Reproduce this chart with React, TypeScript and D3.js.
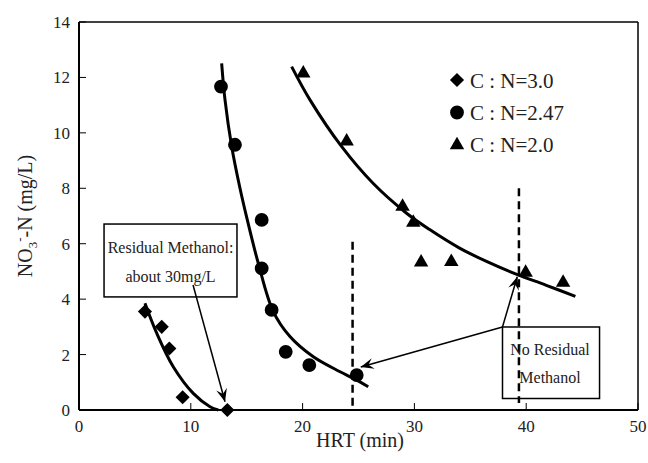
import React from "react";
import * as d3 from "d3";

// C:N = 3.0 (diamonds)
const hrtCN30 = [5.9, 7.4, 8.08, 9.27, 13.27];
const no3CN30 = [3.55, 3.0, 2.22, 0.46, 0.0];
// C:N = 2.47 (circles)
const hrtCN247 = [12.7, 13.95, 16.34, 16.34, 17.23, 18.49, 20.6, 24.84];
const no3CN247 = [11.67, 9.57, 6.86, 5.11, 3.61, 2.1, 1.62, 1.26];
// C:N = 2.0 (triangles)
const hrtCN20 = [20.06, 23.94, 28.94, 29.9, 30.6, 33.3, 39.95, 43.3];
const no3CN20 = [12.15, 9.69, 7.34, 6.76, 5.33, 5.35, 4.96, 4.6];

// fitted trend lines
const fitX30 = [5.9, 6.95, 8.43, 10.22, 11.72, 12.46];
const fitY30 = [3.85, 2.77, 1.56, 0.6, 0.12, 0.0];
const fitX247 = [12.76, 13.06, 13.66, 14.4, 15.0, 16.0, 17.38, 18.87, 20.96, 23.35, 24.54, 25.87];
const fitY247 = [12.51, 11.19, 9.5, 8.0, 6.95, 5.35, 3.55, 2.65, 1.92, 1.38, 1.14, 0.84];
const fitX20 = [19.02, 20.66, 23.5, 26.3, 29.3, 31.4, 34.0, 36.5, 39.1, 41.8, 44.4];
const fitY20 = [12.39, 11.19, 9.5, 8.18, 7.1, 6.5, 5.85, 5.35, 4.9, 4.5, 4.1];

const xTicks = [0, 10, 20, 30, 40, 50];
const yTicks = [0, 2, 4, 6, 8, 10, 12, 14];
const legendLabels = ["C : N=3.0", "C : N=2.47", "C : N=2.0"];

const W = 648;
const H = 463;
const serif = "'Liberation Serif', 'DejaVu Serif', serif";

const zip = (xs: number[], ys: number[]) => xs.map((x, i) => [x, ys[i]] as [number, number]);

export default function App() {
  const x = d3.scaleLinear().domain([0, 50]).range([79, 638]);
  const y = d3.scaleLinear().domain([0, 14]).range([410, 22]);

  const line = d3
    .line<[number, number]>()
    .x((d) => x(d[0]))
    .y((d) => y(d[1]))
    .curve(d3.curveCatmullRom);

  const diamond = d3.symbol().type(d3.symbolSquare).size(100)();
  const circle = d3.symbol().type(d3.symbolCircle).size(150)();
  const triangle = d3.symbol().type(d3.symbolTriangle).size(90)();
  const shapes = [diamond, circle, triangle];

  const marker = (kind: number, cx: number, cy: number, key: string) => (
    <path
      key={key}
      d={shapes[kind]!}
      transform={`translate(${cx},${cy})${kind === 0 ? " rotate(45)" : ""}`}
      fill="#000"
    />
  );

  const series = [zip(hrtCN30, no3CN30), zip(hrtCN247, no3CN247), zip(hrtCN20, no3CN20)];
  const fits = [zip(fitX30, fitY30), zip(fitX247, fitY247), zip(fitX20, fitY20)];

  // annotation boxes in data units
  const box1 = { x0: 2.24, x1: 14.13, y0: 6.71, y1: 4.08 };
  const box2 = { x0: 37.88, x1: 46.56, y0: 2.995, y1: 0.415 };
  const arrows = [
    { from: [10.2, 4.51], to: [13.06, 0.3] },
    { from: [37.88, 2.995], to: [39.2, 4.81] },
    { from: [37.88, 2.995], to: [25.2, 1.55] },
  ];
  const dashes = [
    { at: 24.47, top: 6.07, bottom: 0 },
    { at: 39.35, top: 8.0, bottom: 0.25 },
  ];

  const T = (props: any) => <text fontFamily={serif} fill="#222" {...props} />;

  return (
    <svg width={W} height={H} style={{ position: "absolute", left: 0, top: 0, background: "#fff" }}>
      <defs>
        <marker
          id="head"
          viewBox="-14 -6 16 12"
          markerWidth={16}
          markerHeight={12}
          markerUnits="userSpaceOnUse"
          refX={0}
          refY={0}
          orient="auto"
        >
          <path d="M0,0 L-13,-5.5 L-8,0 L-13,5.5 Z" fill="#000" />
        </marker>
      </defs>
      <rect width={W} height={H} fill="#fff" />

      {/* frame */}
      <line x1={x(0)} x2={x(50)} y1={y(14)} y2={y(14)} stroke="#000" strokeWidth={1.5} />
      <line x1={x(50)} x2={x(50)} y1={y(14)} y2={y(0)} stroke="#000" strokeWidth={1.5} />
      <line x1={x(0)} x2={x(50)} y1={y(0)} y2={y(0)} stroke="#000" strokeWidth={2} />
      <line x1={x(0)} x2={x(0)} y1={y(14)} y2={y(0)} stroke="#000" strokeWidth={2} />

      {/* ticks */}
      {xTicks.map((t) => (
        <g key={"xt" + t}>
          <line x1={x(t)} x2={x(t)} y1={y(0)} y2={y(0) - 7} stroke="#000" strokeWidth={1} />
          <T x={x(t)} y={432} textAnchor="middle" fontSize={17}>
            {t}
          </T>
        </g>
      ))}
      {yTicks.map((t) => (
        <g key={"yt" + t}>
          <line x1={x(0)} x2={x(0) + 7} y1={y(t)} y2={y(t)} stroke="#000" strokeWidth={1} />
          <T x={70} y={y(t) + 6} textAnchor="end" fontSize={17}>
            {t}
          </T>
        </g>
      ))}

      {/* axis titles */}
      <T x={360} y={447} textAnchor="middle" fontSize={20}>
        HRT (min)
      </T>
      <T transform="translate(32,216) rotate(-90)" textAnchor="middle" fontSize={20}>
        NO<tspan fontSize={13} dy={5}>3</tspan>
        <tspan fontSize={13} dy={-13}>-</tspan>
        <tspan dy={8}>-N (mg/L)</tspan>
      </T>

      {/* dashed verticals */}
      {dashes.map((d, i) => (
        <line
          key={"d" + i}
          x1={x(d.at)}
          x2={x(d.at)}
          y1={y(d.top)}
          y2={y(d.bottom)}
          stroke="#000"
          strokeWidth={2.5}
          strokeDasharray="8,5"
        />
      ))}

      {/* fitted lines */}
      {fits.map((f, i) => (
        <path key={"f" + i} d={line(f)!} fill="none" stroke="#000" strokeWidth={3} />
      ))}

      {/* data points */}
      {series.map((s, k) => s.map((p, i) => marker(k, x(p[0]), y(p[1]), `m${k}-${i}`)))}

      {/* annotation boxes */}
      <rect
        x={x(box1.x0)}
        y={y(box1.y0)}
        width={x(box1.x1) - x(box1.x0)}
        height={y(box1.y1) - y(box1.y0)}
        fill="#fff"
        stroke="#000"
        strokeWidth={1.5}
      />
      <T x={(x(box1.x0) + x(box1.x1)) / 2} y={253} textAnchor="middle" fontSize={16}>
        Residual Methanol:
      </T>
      <T x={(x(box1.x0) + x(box1.x1)) / 2} y={282} textAnchor="middle" fontSize={16}>
        about 30mg/L
      </T>
      <rect
        x={x(box2.x0)}
        y={y(box2.y0)}
        width={x(box2.x1) - x(box2.x0)}
        height={y(box2.y1) - y(box2.y0)}
        fill="none"
        stroke="#000"
        strokeWidth={1.5}
      />
      <T x={550} y={355} textAnchor="middle" fontSize={16}>
        No Residual
      </T>
      <T x={550} y={383} textAnchor="middle" fontSize={16}>
        Methanol
      </T>

      {/* arrows */}
      {arrows.map((a, i) => (
        <line
          key={"a" + i}
          x1={x(a.from[0])}
          y1={y(a.from[1])}
          x2={x(a.to[0])}
          y2={y(a.to[1])}
          stroke="#000"
          strokeWidth={1.5}
          markerEnd="url(#head)"
        />
      ))}

      {/* legend */}
      {legendLabels.map((lab, i) => (
        <g key={"l" + i}>
          {marker(i, 457, 80 + i * 32.5, "lm" + i)}
          <T x={470} y={87.5 + i * 32.2} fontSize={21}>
            {lab}
          </T>
        </g>
      ))}
    </svg>
  );
}
